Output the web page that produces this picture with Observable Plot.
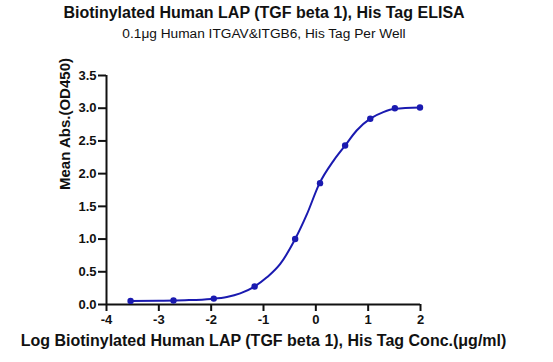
<!DOCTYPE html>
<html>
<head>
<meta charset="utf-8">
<script src="https://cdn.jsdelivr.net/npm/d3@7"></script>
<script src="https://cdn.jsdelivr.net/npm/@observablehq/plot@0.6"></script>
<style>
  body { margin: 0; background: #fff; font-family: "Liberation Sans", Arial, sans-serif; }
  #wrap { width: 553px; height: 362px; position: relative; overflow: hidden; }
  #title { position: absolute; left: 0; width: 528px; top: 4px; text-align: center; font-weight: bold; font-size: 16px; color: #111; white-space: nowrap; }
  #subtitle { position: absolute; left: 0; width: 528px; top: 26px; text-align: center; font-size: 13.7px; color: #111; white-space: nowrap; }
  #chart { position: absolute; left: 0; top: 44px; }
</style>
</head>
<body>
<div id="wrap">
  <div id="title">Biotinylated Human LAP (TGF beta 1), His Tag ELISA</div>
  <div id="subtitle">0.1μg Human ITGAV&amp;ITGB6, His Tag Per Well</div>
  <div id="chart"></div>
</div>
<script>
// Measured points (log conc, mean OD450)
const logConc = [-3.54, -2.72, -1.95, -1.17, -0.395, 0.08, 0.56, 1.04, 1.51, 1.99];
const meanAbs = [0.055, 0.06, 0.09, 0.275, 1.00, 1.855, 2.43, 2.84, 3.00, 3.01];
// Fitted curve
const curveX = [-3.54, -3.0, -2.5, -2.0, -1.7, -1.445, -1.18, -0.935, -0.68, -0.395, -0.17, 0.063, 0.34, 0.56, 0.78, 1.04, 1.29, 1.51, 1.99];
const curveY = [0.055, 0.058, 0.065, 0.085, 0.115, 0.17, 0.27, 0.415, 0.62, 1.0, 1.38, 1.84, 2.20, 2.43, 2.66, 2.84, 2.94, 2.99, 3.01];
const xTicks = [-4, -3, -2, -1, 0, 1, 2];
const yTicks = [0, 0.5, 1.0, 1.5, 2.0, 2.5, 3.0, 3.5];
const xLabel = "Log Biotinylated Human LAP (TGF beta 1), His Tag Conc.(μg/ml)";
const yLabel = "Mean Abs.(OD450)";

const points = logConc.map((x, i) => ({x, y: meanAbs[i]}));
const curve = curveX.map((x, i) => ({x, y: curveY[i]}));
const blue = "#1a1ab0";

const chart = Plot.plot({
  width: 553,
  height: 318,
  marginLeft: 106,
  marginRight: 133,
  marginTop: 31,
  marginBottom: 58,
  style: { fontFamily: "'Liberation Sans', Arial, sans-serif", color: "#111", background: "white", overflow: "visible" },
  x: { domain: [-4, 2] },
  y: { domain: [0, 3.5] },
  marks: [
    Plot.axisY({ ticks: yTicks, tickFormat: d => d.toFixed(1), tickSize: 8, tickPadding: 2, fontWeight: "bold", fontSize: 13, label: null, strokeWidth: 2 }),
    Plot.axisX({ ticks: xTicks, tickFormat: d => String(d), tickSize: 7, tickPadding: 3, fontWeight: "bold", fontSize: 13, label: null, strokeWidth: 2 }),
    Plot.ruleX([-4], { y1: 0, y2: 3.5, strokeWidth: 2, stroke: "#111" }),
    Plot.ruleY([0], { x1: -4, x2: 2, strokeWidth: 2, stroke: "#111" }),
    Plot.line(curve, { x: "x", y: "y", curve: "monotone-x", stroke: blue, strokeWidth: 2 }),
    Plot.dot(points, { x: "x", y: "y", r: 3.2, fill: blue, stroke: "none" }),
    Plot.text([yLabel], { frameAnchor: "left", dx: -41, rotate: -90, fontWeight: "bold", fontSize: 15, fill: "#111" }),
    Plot.text([xLabel], { frameAnchor: "bottom", dy: 41, dx: 0, fontWeight: "bold", fontSize: 16, fill: "#111" })
  ]
});
document.getElementById("chart").appendChild(chart);
</script>
</body>
</html>
